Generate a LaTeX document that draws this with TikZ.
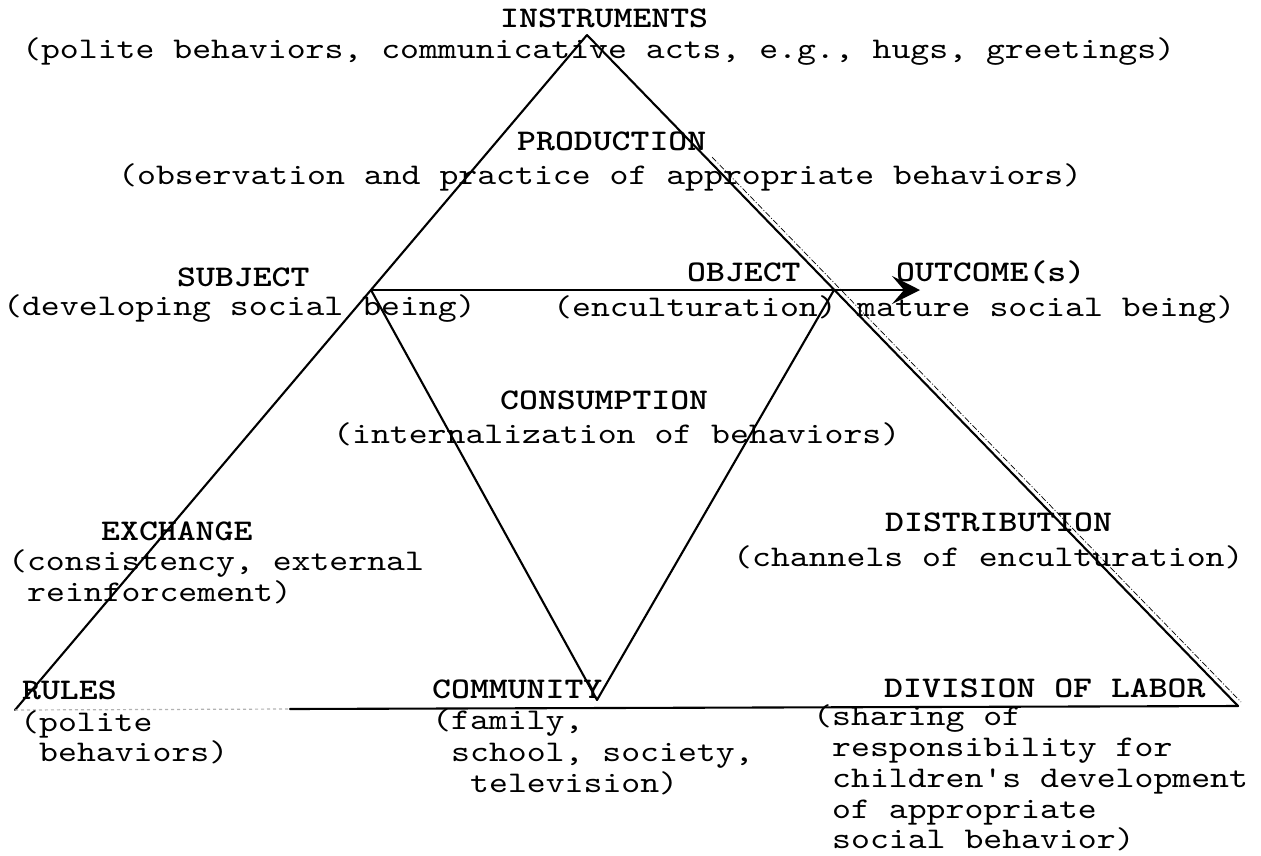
\documentclass[tikz,border=0pt]{standalone}
\usepackage{fontspec}
\usetikzlibrary{arrows.meta}
\newfontfamily\courfont[Extension=.otf,UprightFont=lmmono10-regular,BoldFont=lmmonolt10-bold,FakeStretch=1.2]{lmmono10-regular}
\begin{document}
\begin{tikzpicture}[x=1pt,y=-1pt,
  txt/.style={anchor=base west,inner sep=0pt,font=\courfont\fontsize{30}{30}\selectfont},
  lbl/.style={txt,font=\courfont\bfseries\fontsize{30}{30}\selectfont},
  edge/.style={line width=2.1pt,line cap=round},
  faint/.style={line width=1.2pt,gray!60,dashed},
  dashdot/.style={line width=0.7pt,dash pattern=on 6pt off 2pt on 1pt off 2pt}]
\useasboundingbox (0,0) rectangle (1261,855);
% points
\coordinate (A) at (587,35);
\coordinate (S) at (371,290);
\coordinate (O) at (834,290);
\coordinate (T) at (920,290);
\coordinate (R) at (15,710);
\coordinate (Rb) at (290,709);
\coordinate (C) at (597,700);
\coordinate (D) at (1238,706);
\coordinate (P1) at (712,157);
\coordinate (P2) at (1241,702);
% lines
\draw[edge] (A) -- (R);
\draw[edge] (A) -- (D);
\draw[dashdot] (P1) -- (P2);
\draw[faint] (R) -- (Rb);
\draw[edge] (Rb) -- (D);
\draw[edge,-{Stealth[length=28pt,width=28pt,inset=12pt]}] (S) -- (T);
\draw[edge] (S) -- (C);
\draw[edge] (O) -- (C);
% texts
\node[lbl] (instr) at (500,27) {INSTRUMENTS};
\node[txt] (instrt) at (22,58) {(polite behaviors, communicative acts, e.g., hugs, greetings)};
\node[lbl] (prod) at (517,150) {PRODUCTION};
\node[txt] (prodt) at (118,184) {(observation and practice of appropriate behaviors)};
\node[lbl] (subj) at (177,286) {SUBJECT};
\node[txt] (subjt) at (3,315) {(developing social being)};
\node[lbl] (obj) at (687,281) {OBJECT};
\node[txt] (objt) at (553,316) {(enculturation)};
\node[lbl] (outc) at (896,281) {OUTCOME(s)};
\node[txt] (outct) at (857,316) {mature social being)};
\node[lbl] (cons) at (500,409) {CONSUMPTION};
\node[txt] (const) at (333,443) {(internalization of behaviors)};
\node[lbl] (exch) at (101,540) {EXCHANGE};
\node[txt] (excht) at (8,570) {(consistency, external};
\node[txt] (excht2) at (27,601) {reinforcement)};
\node[lbl] (distr) at (885,531) {DISTRIBUTION};
\node[txt] (distrt) at (733,566) {(channels of enculturation)};
\node[lbl] (rules) at (22,699) {RULES};
\node[txt] (rulest) at (20,731) {(polite};
\node[txt] (rulest2) at (39,761) {behaviors)};
\node[lbl] (comm) at (432,698) {COMMUNITY};
\node[txt] (commt) at (432,729) {(family,};
\node[txt] (commt2) at (451,761) {school, society,};
\node[txt] (commt3) at (470,792) {television)};
\node[lbl] (div) at (884,697) {DIVISION OF LABOR};
\node[txt] (divt) at (813,725) {(sharing of};
\node[txt] (divt2) at (832,756) {responsibility for};
\node[txt] (divt3) at (832,787) {children's development};
\node[txt] (divt4) at (832,818) {of appropriate};
\node[txt] (divt5) at (832,848) {social behavior)};
\end{tikzpicture}
\end{document}
